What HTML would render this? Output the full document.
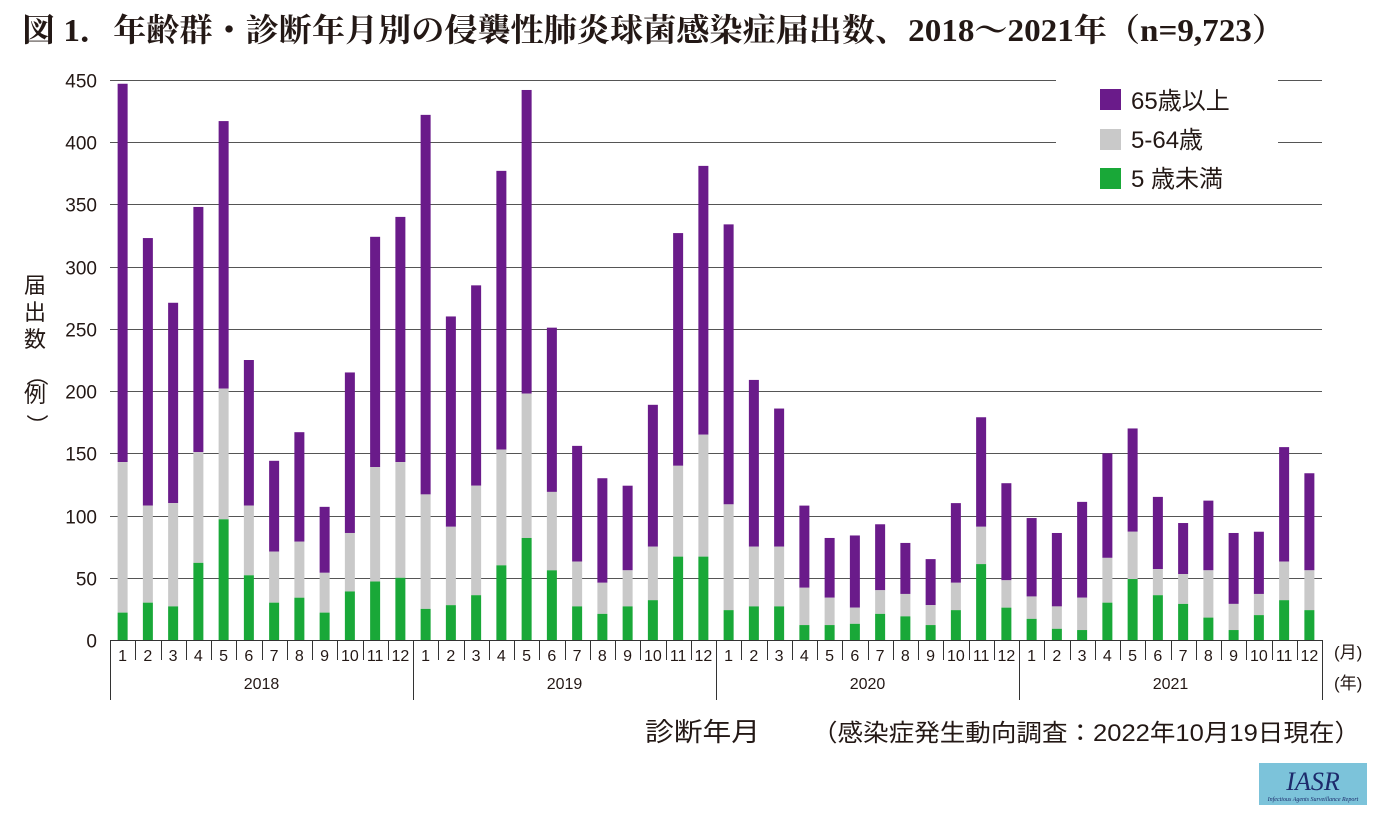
<!DOCTYPE html>
<html><head><meta charset="utf-8"><style>
body{margin:0;background:#fff;}
svg{display:block;font-family:"Liberation Sans","Noto Sans CJK JP",sans-serif;}
</style></head><body>
<svg id="s" width="1400" height="826" xmlns="http://www.w3.org/2000/svg">
<text x="22" y="41" font-size="32" font-weight="bold" textLength="1263" lengthAdjust="spacingAndGlyphs" font-family="'Liberation Serif','Noto Serif CJK SC',serif" fill="#231815">図 1．年齢群・診断年月別の侵襲性肺炎球菌感染症届出数、2018～2021年（n=9,723）</text>
<g id="grid" stroke="#555" stroke-width="1"></g>
<g id="bars"></g>
<rect x="1056" y="70" width="222" height="130" fill="#fff"/>
<line x1="1282" y1="80.5" x2="1322" y2="80.5" stroke="#555"/>
<line x1="1282" y1="142.5" x2="1322" y2="142.5" stroke="#555"/>
<rect x="1100" y="89" width="21" height="21" fill="#6a1b8a"/>
<rect x="1100" y="129" width="21" height="21" fill="#c9c9c9"/>
<rect x="1100" y="168" width="21" height="21" fill="#19a838"/>
<g font-size="24" fill="#231815">
<text x="1131" y="109">65歳以上</text>
<text x="1131" y="148">5-64歳</text>
<text x="1131" y="187">5 歳未満</text>
</g>
<g font-size="22" fill="#231815" text-anchor="middle">
<text x="35" y="293">届</text><text x="35" y="320">出</text><text x="35" y="347">数</text>
<text x="35" y="375" transform="rotate(90 35 375)" dominant-baseline="middle">（</text>
<text x="35" y="402">例</text>
<text x="35" y="425" transform="rotate(90 35 425)" dominant-baseline="middle">）</text>
</g>
<g font-size="17" fill="#231815">
<text x="1334" y="658">(月)</text>
<text x="1334" y="689">(年)</text>
</g>
<text x="645" y="741" font-size="26" textLength="115" lengthAdjust="spacingAndGlyphs" fill="#231815">診断年月</text>
<text x="812" y="741" font-size="24" textLength="548" lengthAdjust="spacingAndGlyphs" fill="#231815">（感染症発生動向調査：2022年10月19日現在）</text>
<rect x="1259" y="763" width="108" height="42" fill="#7cc3da"/>
<text x="1313" y="790" font-size="26" font-style="italic" font-family="'Liberation Serif',serif" fill="#1d2a6b" text-anchor="middle">IASR</text>
<text x="1313" y="801" font-size="6" font-style="italic" font-family="'Liberation Serif',serif" fill="#1d2a6b" text-anchor="middle">Infectious Agents Surveillance Report</text>
</svg>
<script>
var d=[[447,143,22],[323,108,30],[271,110,27],[348,151,62],[417,202,97],[225,108,52],[144,71,30],[167,79,34],[107,54,22],[215,86,39],[324,139,47],[340,143,50],
[422,117,25],[260,91,28],[285,124,36],[377,153,60],[442,198,82],[251,119,56],[156,63,27],[130,46,21],[124,56,27],[189,75,32],[327,140,67],[381,165,67],
[334,109,24],[209,75,27],[186,75,27],[108,42,12],[82,34,12],[84,26,13],[93,40,21],[78,37,19],[65,28,12],[110,46,24],[179,91,61],[126,48,26],
[98,35,17],[86,27,9],[111,34,8],[150,66,30],[170,87,49],[115,57,36],[94,53,29],[112,56,18],[86,29,8],[87,37,20],[155,63,32],[134,56,24]];
var s=document.getElementById('s'),ns='http://www.w3.org/2000/svg';
function el(t,a,p,tx){var e=document.createElementNS(ns,t);for(var k in a)e.setAttribute(k,a[k]);if(tx!=null)e.textContent=tx;(p||s).appendChild(e);return e;}
var g=document.getElementById('grid'),b=document.getElementById('bars');
function Y(v){return 640-v*1.2444;}
for(var v=0;v<=450;v+=50){var y=Math.round(Y(v))+.5;
 if(v>0)el('line',{x1:110,y1:y,x2:1322,y2:y},g);
 el('text',{x:97,y:y+7,'font-size':19,fill:'#231815','text-anchor':'end'},s,String(v));}
el('line',{x1:110,y1:640.5,x2:1322,y2:640.5,stroke:'#333'},s);
var W=25.25;
for(var i=0;i<48;i++){var cx=110+W*(i+.5),r=d[i];
 el('rect',{x:cx-5,y:Y(r[0]),width:10,height:Y(r[1])-Y(r[0]),fill:'#6a1b8a'},b);
 el('rect',{x:cx-5,y:Y(r[1]),width:10,height:Y(r[2])-Y(r[1]),fill:'#c9c9c9'},b);
 el('rect',{x:cx-5,y:Y(r[2]),width:10,height:640-Y(r[2]),fill:'#19a838'},b);
 el('text',{x:cx,y:661,'font-size':16,fill:'#231815','text-anchor':'middle'},s,String(i%12+1));}
for(var i=0;i<=48;i++){var x=Math.round(110+W*i)+.5;
 el('line',{x1:x,y1:640,x2:x,y2:(i%12==0)?700:660,stroke:'#333'},s);}
for(var k=0;k<4;k++)el('text',{x:110+W*12*(k+.5),y:689,'font-size':16,fill:'#231815','text-anchor':'middle'},s,String(2018+k));
</script>
</body></html>
